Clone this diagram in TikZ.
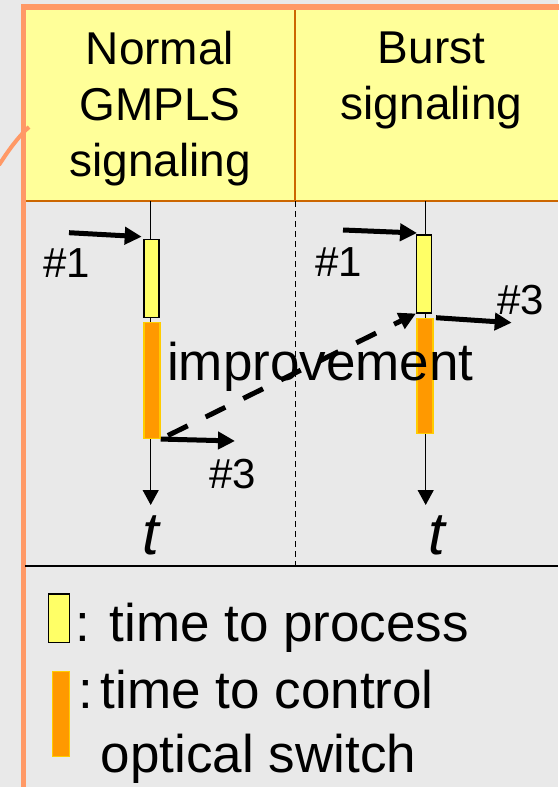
\documentclass[tikz,border=0pt]{standalone}
\usepackage{fontspec}
\setmainfont{Liberation Sans}
\usetikzlibrary{arrows.meta}

\definecolor{bggray}{HTML}{E9E9E9}
\definecolor{frameorange}{HTML}{FF9966}
\definecolor{headyellow}{HTML}{FFFF99}
\definecolor{headline}{HTML}{CC6600}
\definecolor{procyellow}{HTML}{FFFF66}
\definecolor{ctrlorange}{HTML}{FF9900}
\definecolor{ctrlborder}{HTML}{FFCC00}

\tikzset{
  headtext/.style={align=center,anchor=base,inner sep=0pt,font=\fontsize{46}{56}\selectfont},
  numtext/.style={anchor=base,inner sep=0pt,font=\fontsize{42}{50}\selectfont},
  timetext/.style={anchor=base,inner sep=0pt,font=\fontsize{60}{72}\selectfont\itshape},
  legtext/.style={anchor=base west,inner sep=0pt,align=left,font=\fontsize{53}{64}\selectfont},
  procbox/.style={draw=black,fill=procyellow,line width=1.5pt,inner sep=0pt,minimum width=15pt},
  ctrlbox/.style={draw=ctrlborder,fill=ctrlorange,line width=1.5pt,inner sep=0pt,minimum width=16pt},
  timeaxis/.style={draw=black,line width=1.3pt,-{Triangle[length=15pt,width=16pt]}},
  sigarrow/.style={draw=black,line width=5pt,-{Triangle[length=17pt,width=17pt]}},
  gainarrow/.style={sigarrow,dash pattern=on 22pt off 20pt,dash phase=34pt}
}

\begin{document}
\begin{tikzpicture}[x=1pt,y=-1pt]
\useasboundingbox (0,0) rectangle (558,787);
\fill[bggray] (0,0) rectangle (558,787);
\fill[headyellow] (23,7) rectangle (558,201);
\draw[headline,line width=1.5pt] (25,201) -- (558,201);
\draw[headline,line width=1.5pt] (295,7) -- (295,201);
\draw[frameorange,line width=5.5pt] (23.3,790) -- (23.3,7) -- (560,7);
\coordinate (bendS) at (-1,165);
\coordinate (bendE) at (29,127);
\draw[frameorange,line width=4pt] (bendS) .. controls (8,151) and (18,137) .. (bendE);

\node[headtext] (hdrNormal) at (160,176) {Normal\\GMPLS\\signaling};
\node[headtext] (hdrBurst) at (431.5,119.5) {Burst\\signaling};

\draw[black,line width=1pt,dash pattern=on 6pt off 4pt] (295.5,201) -- (295.5,566);
\draw[black,line width=1.5pt] (25,566) -- (558,566);

\coordinate (topL) at (150.7,201);
\coordinate (endL) at (150.7,505);
\coordinate (topR) at (425.7,201);
\coordinate (endR) at (425.7,505);
\draw[timeaxis] (topL) -- (endL);
\draw[timeaxis] (topR) -- (endR);
\node[timetext] (tL) at (151,554) {t};
\node[timetext] (tR) at (436.5,554) {t};

\node[procbox,minimum height=78pt] (procL) at (151.6,278.3) {};
\node[procbox,minimum height=77.7pt] (procR) at (424.2,273.9) {};
\node[ctrlbox,minimum height=116pt] (ctrlL) at (152,380.3) {};
\node[ctrlbox,minimum height=115pt] (ctrlR) at (424.8,375.8) {};

\coordinate (in1L) at (69,232.7);
\coordinate (in1Ltip) at (141.7,236.7);
\coordinate (in1R) at (343,230);
\coordinate (in1Rtip) at (417,233);
\coordinate (out3Ltip) at (235,441);
\coordinate (out3R) at (436,317.7);
\coordinate (out3Rtip) at (511.7,322.7);
\draw[sigarrow] (in1L) -- (in1Ltip);
\draw[sigarrow] (in1R) -- (in1Rtip);
\draw[sigarrow] (ctrlL.south east) -- (out3Ltip);
\draw[sigarrow] (out3R) -- (out3Rtip);
\draw[gainarrow] (ctrlL.south east) -- (procR.south west);

\node[numtext] (num1L) at (66.5,277) {\#1};
\node[numtext] (num1R) at (339,276) {\#1};
\node[numtext] (num3L) at (232.5,488) {\#3};
\node[numtext] (num3R) at (520.5,314) {\#3};

\node[anchor=base west,inner sep=0pt,font=\fontsize{53}{64}\selectfont] (gain) at (167,380) {improvement};

\node[procbox,minimum width=21pt,minimum height=48.3pt] (legProc) at (58.8,618.2) {};
\node[ctrlbox,minimum width=16.6pt,minimum height=85pt] (legCtrl) at (61,714.2) {};
\node[legtext] (legProcText) at (75,641) {: time to process};
\node[legtext] (legColon) at (78.5,708.3) {:};
\node[legtext] (legCtrlText) at (100.7,772.7) {time to control\\optical switch};
\end{tikzpicture}
\end{document}
